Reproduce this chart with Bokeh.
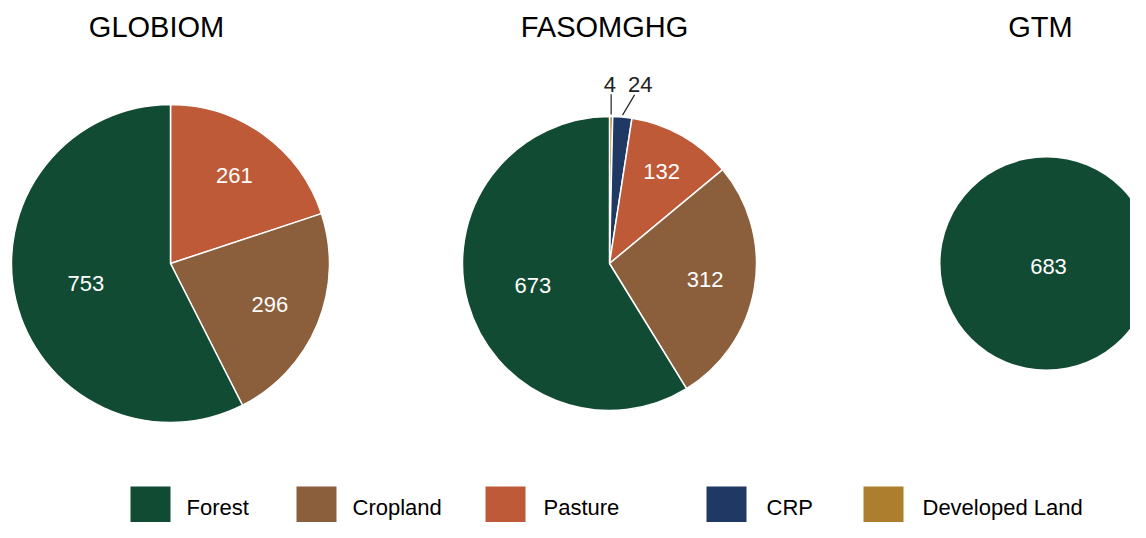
import math
from bokeh.plotting import figure
from bokeh.models import Range1d, ColumnDataSource
from bokeh.core.properties import value
from bokeh.embed import file_html
from bokeh.resources import INLINE

# ---------------- data ----------------
models = ["GLOBIOM", "FASOMGHG", "GTM"]
categories = ["Forest", "Cropland", "Pasture", "CRP", "Developed Land"]
forest = [753, 673, 683]
cropland = [296, 312, 0]
pasture = [261, 132, 0]
crp = [0, 24, 0]
developed = [0, 4, 0]

# ---------------- styles / layout ----------------
colors = {
    "Forest": "#124B33",
    "Cropland": "#8B5E3C",
    "Pasture": "#BE5A38",
    "CRP": "#1F3864",
    "Developed Land": "#AD7E2E",
}
FONT = value("Liberation Sans")
W, H = 1130, 522


def Y(yp):
    # picture y (downwards) -> data y (upwards)
    return H - yp


pie_cx = [170, 609, 1046]
pie_cy = 263
pie_r = [159, 147, 106]
title_x = [156, 604, 1040]
title_y = 26
legend_sq_x = [130, 296, 485, 706, 863]
legend_txt_x = [186, 352, 543, 766, 922]
legend_sq_top, legend_sq_bot = 486, 522
legend_y = 507

p = figure(width=W, height=H, x_range=Range1d(0, W), y_range=Range1d(0, H),
           output_backend="svg", toolbar_location=None, min_border=0,
           x_axis_type=None, y_axis_type=None)
p.grid.visible = False
p.outline_line_color = None
p.background_fill_color = "white"
p.border_fill_color = "white"

series = {"Forest": forest, "Cropland": cropland, "Pasture": pasture,
          "CRP": crp, "Developed Land": developed}
clock_order = ["Developed Land", "CRP", "Pasture", "Cropland", "Forest"]

wedge = dict(x=[], y=[], r=[], start=[], end=[], color=[])
full = dict(x=[], y=[], r=[], color=[])
inside = dict(x=[], y=[], text=[])
outside = dict(x=[], y=[], text=[])
leaders = dict(x0=[], y0=[], x1=[], y1=[])

LABEL_FS = 22
for i, m in enumerate(models):
    vals = [(c, series[c][i]) for c in clock_order if series[c][i] > 0]
    total = sum(v for _, v in vals)
    cx, r = pie_cx[i], pie_r[i]
    cum = 0
    outs = []
    for c, v in vals:
        frac = v / total
        theta = 2 * math.pi * (cum + v / 2) / total
        if frac >= 0.999:
            full["x"].append(cx)
            full["y"].append(Y(pie_cy))
            full["r"].append(r)
            full["color"].append(colors[c])
            inside["x"].append(cx + 2)
            inside["y"].append(Y(pie_cy + 3))
            inside["text"].append(str(v))
        else:
            start = math.pi / 2 - 2 * math.pi * cum / total
            wedge["x"].append(cx)
            wedge["y"].append(Y(pie_cy))
            wedge["r"].append(r)
            wedge["start"].append(start)
            wedge["end"].append(start - 2 * math.pi * frac)
            wedge["color"].append(colors[c])
            if frac >= 0.03:
                f = 0.76 - 0.37 * frac
                inside["x"].append(cx + f * r * math.sin(theta))
                inside["y"].append(Y(pie_cy - f * r * math.cos(theta)))
                inside["text"].append(str(v))
            else:
                outs.append((v, theta))
        cum += v
    # outside labels with simple push-apart
    prev_x, prev_w = None, None
    for v, theta in outs:
        txt = str(v)
        w = len(txt) * 0.556 * LABEL_FS
        lx = cx + 1.22 * r * math.sin(theta)
        ly = pie_cy - 1.22 * r * math.cos(theta)
        if prev_x is not None and lx - prev_x < (prev_w + w) / 2 + 12:
            lx = prev_x + (prev_w + w) / 2 + 12
        ex = cx + (r + 2) * math.sin(theta)
        ey = pie_cy - (r + 2) * math.cos(theta)
        d = max(-(w / 2 - 5), min(w / 2 - 5, ex - lx))
        outside["x"].append(lx - 1.5)
        outside["y"].append(Y(ly))
        outside["text"].append(txt)
        leaders["x0"].append(ex)
        leaders["y0"].append(Y(ey))
        leaders["x1"].append(lx + d)
        leaders["y1"].append(Y(ly + 10))
        prev_x, prev_w = lx, w

p.circle(x="x", y="y", radius="r", fill_color="color", line_color=None,
         source=ColumnDataSource(full))
p.wedge(x="x", y="y", radius="r", start_angle="start", end_angle="end",
        direction="clock", fill_color="color", line_color="white",
        line_width=1.5, source=ColumnDataSource(wedge))

p.text(x="x", y="y", text="text", source=ColumnDataSource(inside),
       text_font=FONT, text_font_size=f"{LABEL_FS}px", text_color="white",
       text_align="center", text_baseline="middle")
p.segment(x0="x0", y0="y0", x1="x1", y1="y1", source=ColumnDataSource(leaders),
          line_color="#222222", line_width=1.2)
p.text(x="x", y="y", text="text", source=ColumnDataSource(outside),
       text_font=FONT, text_font_size=f"{LABEL_FS}px", text_color="#222222",
       text_align="center", text_baseline="middle")

# titles
p.text(x=title_x, y=[Y(title_y)] * len(models), text=models,
       text_font=FONT, text_font_size="29px", text_color="black",
       text_align="center", text_baseline="middle")

# legend
p.quad(left=legend_sq_x, right=[sx + 40 for sx in legend_sq_x],
       top=[Y(legend_sq_top)] * len(categories),
       bottom=[Y(legend_sq_bot)] * len(categories),
       fill_color=[colors[c] for c in categories], line_color=None)
p.text(x=legend_txt_x, y=[Y(legend_y)] * len(categories), text=categories,
       text_font=FONT, text_font_size="22px", text_color="black",
       text_align="left", text_baseline="middle")

open("out.html", "w").write(file_html(p, INLINE))
